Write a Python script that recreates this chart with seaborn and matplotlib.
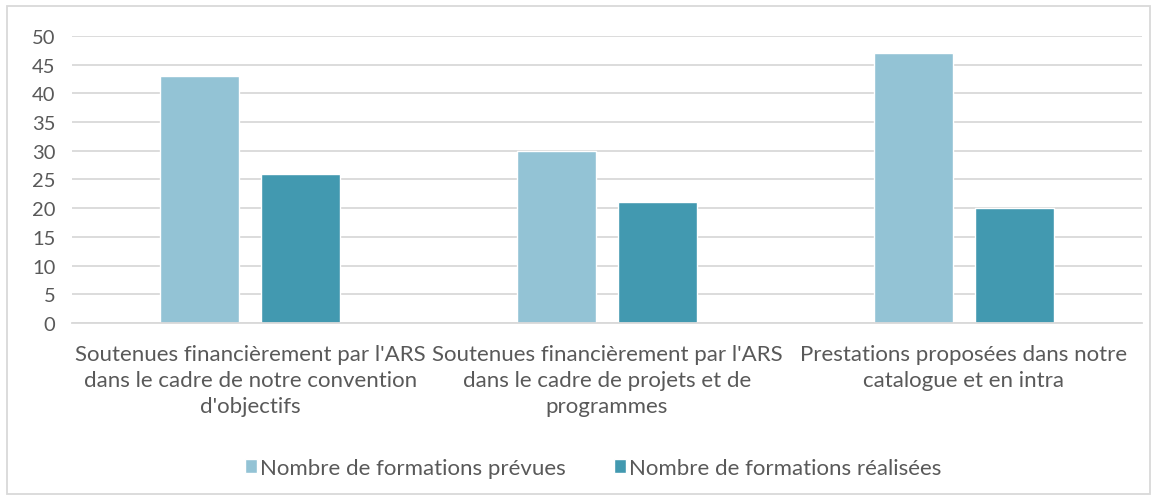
import pandas as pd
import numpy as np
import matplotlib
matplotlib.use("Agg")
import matplotlib.pyplot as plt
import seaborn as sns
from matplotlib.patches import Rectangle

# data
categories = [
    "Soutenues financièrement par l'ARS\ndans le cadre de notre convention\nd'objectifs",
    "Soutenues financièrement par l'ARS\ndans le cadre de projets et de\nprogrammes",
    "Prestations proposées dans notre\ncatalogue et en intra",
]
series_names = ["Nombre de formations prévues", "Nombre de formations réalisées"]
prevues = [43, 30, 47]
realisees = [26, 21, 20]
colors = ["#93C3D5", "#4299B0"]

df = pd.DataFrame({
    "categorie": categories * 2,
    "serie": [series_names[0]] * 3 + [series_names[1]] * 3,
    "valeur": prevues + realisees,
})

sns.set_theme(style="white")
plt.rcParams["font.family"] = ["Lato", "DejaVu Sans"]

fig = plt.figure(figsize=(11.57, 5.02), dpi=100)
ax = fig.add_axes([0.0622, 0.3546, 0.9248, 0.5717])

sns.barplot(data=df, x="categorie", y="valeur", hue="serie", palette=colors,
            width=0.566, gap=0.218, ax=ax, saturation=1)

ax.set_ylim(0, 50)
ax.set_xlim(-0.5, 2.5)
ax.set_yticks(range(0, 51, 5))
ax.yaxis.grid(True, color="#D9D9D9", linewidth=1.3)
ax.set_axisbelow(True)
for s in ["top", "right", "left"]:
    ax.spines[s].set_visible(False)
ax.spines["bottom"].set_color("#D9D9D9")
ax.spines["bottom"].set_linewidth(1.3)
ax.tick_params(axis="y", length=0, colors="#595959", labelsize=14.5, pad=12)
ax.tick_params(axis="x", length=0, colors="#595959", labelsize=16, pad=15)
ax.set_xlabel("")
ax.set_ylabel("")
for lbl in ax.get_xticklabels():
    lbl.set_linespacing(1.38)

ax.legend(loc="center", bbox_to_anchor=(0.487, -0.505), ncol=2, frameon=False,
          fontsize=16, labelcolor="#595959", handlelength=0.55, handleheight=0.55,
          handletextpad=0.15, columnspacing=2.15)

fig.patches.append(Rectangle((7 / 1157, 7 / 502), 1143 / 1157, 488 / 502,
                             transform=fig.transFigure, fill=False,
                             edgecolor="#D9D9D9", linewidth=1.3))

fig.savefig("out.png", dpi=100)
